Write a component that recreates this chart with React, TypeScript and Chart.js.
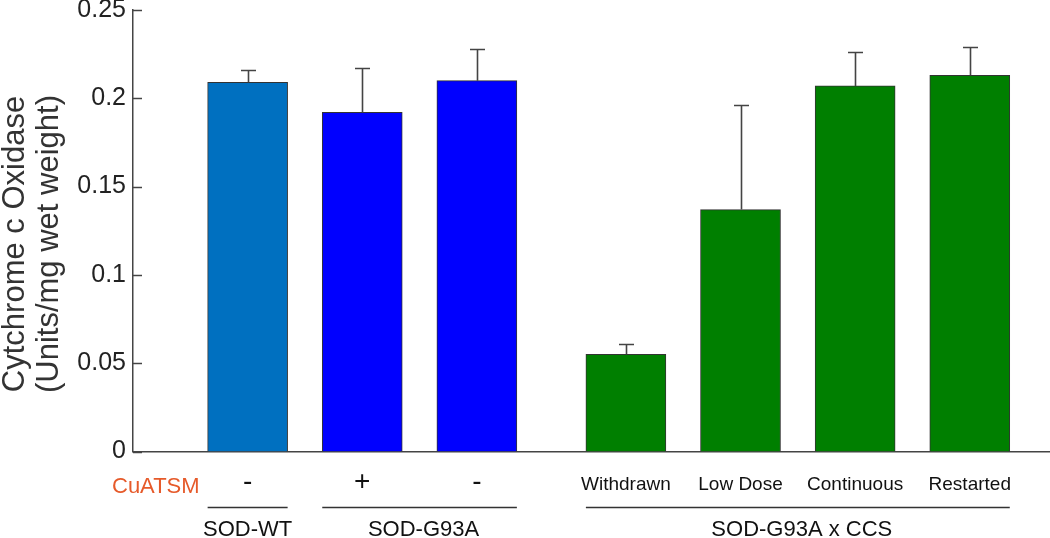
import React, { useEffect, useRef } from "react";
import { Chart, registerables } from "chart.js";

Chart.register(...registerables);

// ---- data ----
const categories = ["SOD-WT", "SOD-G93A (+)", "SOD-G93A (-)", "Withdrawn", "Low Dose", "Continuous", "Restarted"];
const treatmentLabels = ["-", "+", "-", "Withdrawn", "Low Dose", "Continuous", "Restarted"];
const categoryPositions = [1, 2, 3, 4.3, 5.3, 6.3, 7.3];
const cytochromeValues = [0.209, 0.192, 0.21, 0.055, 0.137, 0.207, 0.213];
const errorValues = [0.007, 0.025, 0.018, 0.006, 0.059, 0.019, 0.016];
const groupLabels = ["SOD-WT", "SOD-G93A", "SOD-G93A x CCS"];
const groupFirstIndex = [0, 1, 3];
const groupLastIndex = [0, 2, 6];
const yTickLabels = ["0", "0.05", "0.1", "0.15", "0.2", "0.25"];
const treatmentName = "CuATSM";
const yTitleLines = ["Cytchrome c Oxidase", "(Units/mg wet weight)"];

// ---- styles ----
const barColors = ["#0070C0", "#0000FF", "#0000FF", "#007F00", "#007F00", "#007F00", "#007F00"];
const FONT = "'Liberation Sans', Arial, Helvetica, sans-serif";
const AXIS = "#444444";

const annotationPlugin = {
  id: "annotations",
  afterDatasetsDraw(chart: any) {
    const ctx = chart.ctx;
    const xs = chart.scales.x;
    const ys = chart.scales.y;
    ctx.save();
    ctx.strokeStyle = AXIS;
    ctx.lineWidth = 1.6;
    cytochromeValues.forEach((v, i) => {
      const px = Math.round(xs.getPixelForValue(categoryPositions[i])) + 0.5;
      const y0 = ys.getPixelForValue(v);
      const y1 = Math.round(ys.getPixelForValue(v + errorValues[i])) + 0.5;
      ctx.beginPath();
      ctx.moveTo(px, y0);
      ctx.lineTo(px, y1);
      ctx.moveTo(px - 7.5, y1);
      ctx.lineTo(px + 7.5, y1);
      ctx.stroke();
    });
    ctx.restore();
  },
  afterDraw(chart: any) {
    const ctx = chart.ctx;
    const xs = chart.scales.x;
    const ys = chart.scales.y;
    const area = chart.chartArea;
    const meta = chart.getDatasetMeta(0);
    ctx.save();

    // inward tick marks on y axis
    ctx.strokeStyle = AXIS;
    ctx.lineWidth = 1.5;
    ys.ticks.forEach((t: any) => {
      const py = Math.round(ys.getPixelForValue(t.value)) + 0.5;
      ctx.beginPath();
      ctx.moveTo(area.left, py);
      ctx.lineTo(area.left + 9, py);
      ctx.stroke();
    });

    // y title
    ctx.fillStyle = "#333333";
    ctx.font = `31px ${FONT}`;
    ctx.textAlign = "center";
    ctx.textBaseline = "middle";
    const titleX = [15, 49];
    yTitleLines.forEach((line, i) => {
      ctx.save();
      ctx.translate(titleX[i], 244);
      ctx.rotate(-Math.PI / 2);
      ctx.fillText(line, 0, 0);
      ctx.restore();
    });

    // treatment name
    ctx.fillStyle = "#E65A2A";
    ctx.font = `22px ${FONT}`;
    ctx.textAlign = "left";
    ctx.textBaseline = "alphabetic";
    ctx.fillText(treatmentName, 112, 493);

    // treatment labels under bars
    ctx.fillStyle = "#111111";
    ctx.textAlign = "center";
    treatmentLabels.forEach((lab, i) => {
      const px = xs.getPixelForValue(categoryPositions[i]);
      if (lab === "+" || lab === "-") {
        ctx.font = `28px ${FONT}`;
        ctx.fillText(lab, px, 490);
      } else {
        ctx.font = `19px ${FONT}`;
        ctx.fillText(lab, px, 490);
      }
    });

    // group lines and labels
    ctx.strokeStyle = "#333333";
    ctx.lineWidth = 1.5;
    ctx.font = `22px ${FONT}`;
    groupLabels.forEach((g, k) => {
      const first = meta.data[groupFirstIndex[k]];
      const last = meta.data[groupLastIndex[k]];
      const x0 = first.x - first.width / 2;
      const x1 = last.x + last.width / 2;
      ctx.beginPath();
      ctx.moveTo(x0, 507.5);
      ctx.lineTo(x1, 507.5);
      ctx.stroke();
      ctx.fillText(g, (x0 + x1) / 2 + (groupLastIndex[k] > groupFirstIndex[k] ? 4 : 0), 536);
    });

    ctx.restore();
  },
};

export default function App() {
  const canvasRef = useRef<HTMLCanvasElement | null>(null);

  useEffect(() => {
    if (!canvasRef.current) return;
    Chart.defaults.font.family = FONT;
    const chart = new Chart(canvasRef.current, {
      type: "bar",
      data: {
        labels: categories,
        datasets: [
          {
            label: "Cytochrome c Oxidase",
            data: cytochromeValues.map((v, i) => ({ x: categoryPositions[i], y: v })),
            backgroundColor: barColors,
            borderColor: "#333333",
            borderWidth: 1,
            barThickness: 80,
          } as any,
        ],
      },
      options: {
        animation: false,
        responsive: false,
        devicePixelRatio: 1,
        layout: { padding: { left: 0, right: 0, top: 10, bottom: 86.5 } },
        plugins: {
          legend: { display: false },
          tooltip: { enabled: false },
        },
        scales: {
          x: {
            type: "linear",
            min: 0,
            max: 8,
            offset: false,
            grid: { display: false, drawTicks: false },
            ticks: { display: false },
            border: { display: true, color: AXIS, width: 1.5 },
          },
          y: {
            type: "linear",
            min: 0,
            max: 0.25,
            afterFit: (scale: any) => {
              scale.width = 133;
            },
            grid: { display: false, drawTicks: false },
            border: { display: true, color: AXIS, width: 1.5 },
            ticks: {
              stepSize: 0.05,
              padding: 7,
              color: "#222222",
              font: { size: 25, family: FONT, lineHeight: 0.2 },
              callback: (_v: any, i: number) => yTickLabels[i],
            },
          },
        },
      },
      plugins: [annotationPlugin],
    });
    return () => chart.destroy();
  }, []);

  return (
    <div style={{ position: "fixed", left: 0, top: 0, width: 1050, height: 538, background: "#fff" }}>
      <canvas ref={canvasRef} width={1050} height={538} style={{ width: 1050, height: 538, display: "block" }} />
    </div>
  );
}
